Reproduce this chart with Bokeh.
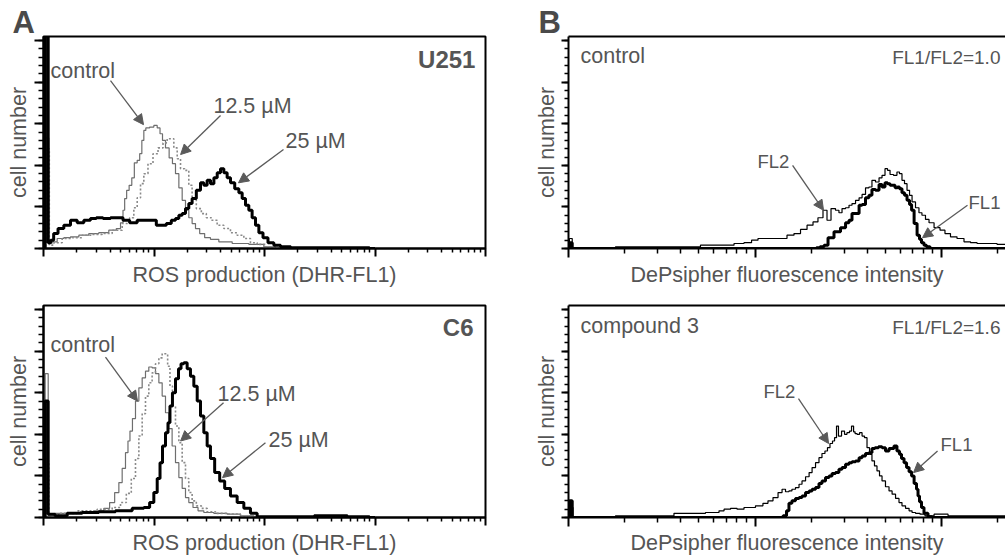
import numpy as np
from bokeh.plotting import figure
from bokeh.models import FixedTicker, Label, Arrow, NormalHead, Range1d, LogAxis
from bokeh.layouts import row, column
from bokeh.embed import file_html
from bokeh.resources import INLINE

FONT = "Liberation Sans"
TXT = "#555555"
ARROW_C = "#5a5a5a"

# ---------------- data (x: log10 intensity, y: cell count) ----------------
# Panel A, U251
u251_ctrl_lx = [0.0, 0.035, 0.06, 0.093, 0.154, 0.214, 0.275, 0.365, 0.455, 0.546,
                0.636, 0.682, 0.712, 0.727, 0.742, 0.763, 0.787, 0.811, 0.833, 0.863,
                0.878, 0.902, 0.914, 0.938, 0.983, 1.014, 1.044, 1.065, 1.089, 1.119,
                1.155, 1.179, 1.210, 1.240, 1.270, 1.300, 1.330, 1.360, 1.391, 1.436,
                1.481, 1.541, 1.632, 1.783, 1.934, 2.054, 2.145, 2.3]
u251_ctrl_n = [0, 133, 6, 8, 12, 13, 14, 16, 18, 19,
               22, 24, 31, 46, 60, 70, 76, 85, 103, 106,
               114, 130, 142, 145, 146, 148, 145, 138, 130, 121,
               109, 102, 90, 73, 58, 46, 37, 30, 24, 18,
               13, 11, 8, 6, 5, 2, 1, 0]
u251_125_lx = [0.0, 0.04, 0.065, 0.124, 0.214, 0.305, 0.395, 0.486, 0.576, 0.667,
               0.757, 0.802, 0.833, 0.863, 0.893, 0.923, 0.968, 1.014, 1.059, 1.104,
               1.134, 1.164, 1.195, 1.225, 1.255, 1.300, 1.330, 1.360, 1.406, 1.451,
               1.496, 1.541, 1.602, 1.662, 1.722, 1.783, 1.843, 1.903, 1.964, 2.054,
               2.145, 2.3]
u251_125_n = [0, 120, 4, 7, 12, 13, 16, 17, 18, 22,
              30, 37, 49, 61, 78, 90, 102, 114, 121, 127,
              132, 132, 121, 108, 96, 94, 76, 61, 48, 42,
              37, 34, 28, 24, 19, 16, 12, 7, 5, 2,
              1, 0]
u251_25_lx = [0.0, 0.03, 0.055, 0.075, 0.109, 0.154, 0.214, 0.275, 0.335, 0.395,
              0.455, 0.501, 0.576, 0.637, 0.697, 0.742, 0.817, 0.878, 0.938, 0.998,
              1.044, 1.089, 1.134, 1.179, 1.210, 1.240, 1.270, 1.300, 1.330, 1.360,
              1.406, 1.436, 1.466, 1.496, 1.527, 1.557, 1.587, 1.617, 1.647, 1.677,
              1.708, 1.753, 1.783, 1.813, 1.843, 1.873, 1.903, 1.934, 1.964, 2.009,
              2.054, 2.115, 2.175, 2.3, 2.5, 2.7, 2.9, 3.0]
u251_25_n = [0, 300, 7, 10, 18, 24, 28, 34, 31, 34,
             36, 37, 36, 37, 37, 34, 31, 34, 34, 34,
             28, 28, 30, 34, 36, 40, 42, 48, 54, 60,
             70, 79, 76, 82, 78, 85, 91, 96, 91, 85,
             79, 72, 67, 60, 52, 46, 37, 28, 19, 13,
             7, 4, 2, 1, 1, 1, 1, 0]

# Panel A, C6
c6_ctrl_lx = [0.0, 0.03, 0.055, 0.154, 0.275, 0.395, 0.516, 0.576, 0.621, 0.667,
              0.697, 0.727, 0.757, 0.772, 0.793, 0.817, 0.848, 0.878, 0.908, 0.938,
              0.968, 0.998, 1.029, 1.059, 1.089, 1.119, 1.149, 1.179, 1.210, 1.240,
              1.270, 1.300, 1.330, 1.376, 1.421, 1.481, 1.602, 1.722, 1.843, 1.964,
              2.1]
c6_ctrl_n = [0, 173, 2, 5, 6, 7, 8, 11, 18, 30,
             42, 59, 78, 92, 104, 119, 140, 156, 168, 176,
             181, 180, 173, 162, 146, 126, 107, 86, 66, 48,
             35, 24, 18, 12, 8, 6, 5, 4, 2, 1,
             0]
c6_125_lx = [0.0, 0.035, 0.06, 0.214, 0.395, 0.576, 0.667, 0.727, 0.772, 0.817,
             0.848, 0.878, 0.908, 0.938, 0.968, 0.998, 1.029, 1.059, 1.089, 1.113,
             1.134, 1.155, 1.179, 1.210, 1.240, 1.270, 1.300, 1.330, 1.360, 1.406,
             1.451, 1.511, 1.602, 1.722, 1.843, 1.95]
c6_125_n = [0, 68, 1, 5, 8, 10, 12, 18, 29, 47,
            71, 98, 125, 146, 162, 174, 185, 192, 197, 197,
            182, 158, 134, 110, 90, 66, 47, 30, 20, 14,
            11, 7, 5, 4, 1, 0]
c6_25_lx = [0.0, 0.03, 0.055, 0.154, 0.275, 0.425, 0.576, 0.727, 0.878, 0.938,
            0.983, 1.014, 1.044, 1.065, 1.089, 1.119, 1.134, 1.155, 1.179, 1.210,
            1.234, 1.255, 1.285, 1.315, 1.345, 1.376, 1.406, 1.436, 1.466, 1.496,
            1.526, 1.572, 1.617, 1.662, 1.722, 1.783, 1.843, 1.903, 1.964, 2.084,
            2.3, 2.6, 2.9, 3.0]
c6_25_n = [0, 140, 4, 2, 5, 6, 7, 8, 11, 12,
           18, 30, 47, 66, 86, 102, 114, 134, 150, 167,
           179, 185, 186, 179, 170, 158, 140, 122, 102, 86,
           71, 54, 44, 35, 26, 18, 11, 5, 1, 1,
           1, 2, 1, 0]

# Panel B, control
ctl_fl2_lx = [0.0, 0.01, 0.03, 0.172, 0.332, 0.477, 0.654, 0.761, 0.853, 0.922,
              0.960, 1.003, 1.029, 1.083, 1.153, 1.190, 1.228, 1.260, 1.298, 1.324,
              1.351, 1.378, 1.394, 1.421, 1.442, 1.458, 1.475, 1.496, 1.512, 1.528,
              1.550, 1.566, 1.582, 1.603, 1.619, 1.635, 1.657, 1.673, 1.689, 1.705,
              1.716, 1.732, 1.753, 1.769, 1.780, 1.796, 1.807, 1.823, 1.834, 1.850,
              1.871, 1.887, 1.903, 1.925, 1.941, 1.979, 2.005, 2.032, 2.064, 2.102,
              2.139, 2.172, 2.209, 2.263, 2.332, 2.36]
ctl_fl2_n = [0, 12, 1, 1, 2, 2, 2, 4, 4, 6,
             7, 10, 12, 12, 12, 16, 18, 23, 28, 32,
             37, 46, 34, 48, 46, 43, 48, 49, 52, 54,
             58, 61, 65, 73, 74, 82, 80, 85, 88, 96,
             94, 89, 88, 92, 90, 82, 78, 70, 64, 56,
             49, 43, 40, 35, 31, 25, 22, 18, 14, 12,
             8, 7, 6, 6, 5, 5]
ctl_fl1_lx = [0.0, 0.01, 0.03, 1.324, 1.335, 1.362, 1.378, 1.405, 1.442, 1.475,
              1.496, 1.512, 1.528, 1.550, 1.566, 1.582, 1.603, 1.619, 1.635, 1.657,
              1.673, 1.689, 1.705, 1.716, 1.732, 1.743, 1.759, 1.769, 1.780, 1.796,
              1.807, 1.823, 1.834, 1.845, 1.861, 1.877, 1.887, 1.898, 1.914, 1.925,
              1.952, 2.36]
ctl_fl1_n = [0, 7, 0, 0, 1, 2, 4, 13, 20, 25,
             31, 34, 42, 42, 52, 53, 61, 64, 71, 70,
             77, 74, 79, 78, 76, 76, 73, 74, 72, 67,
             64, 58, 53, 46, 30, 16, 11, 7, 4, 2,
             0, 0]

# Panel B, compound 3
cp3_fl2_lx = [0.0, 0.01, 0.038, 0.172, 0.332, 0.493, 0.638, 0.708, 0.761, 0.799,
              0.815, 0.853, 0.885, 0.922, 0.960, 0.976, 1.029, 1.056, 1.083, 1.110,
              1.137, 1.153, 1.174, 1.190, 1.206, 1.228, 1.244, 1.260, 1.282, 1.298,
              1.314, 1.335, 1.351, 1.367, 1.383, 1.394, 1.410, 1.421, 1.432, 1.442,
              1.453, 1.475, 1.485, 1.501, 1.512, 1.523, 1.534, 1.539, 1.555, 1.566,
              1.582, 1.592, 1.609, 1.619, 1.635, 1.646, 1.662, 1.673, 1.689, 1.710,
              1.727, 1.743, 1.764, 1.780, 1.796, 1.818, 1.834, 1.850, 1.871, 1.898,
              1.925, 1.995, 2.075, 2.139, 2.209, 2.263, 2.332, 2.36]
cp3_fl2_n = [0, 12, 1, 1, 2, 2, 5, 5, 6, 6,
             8, 10, 11, 10, 12, 12, 14, 17, 20, 24,
             30, 34, 31, 32, 34, 36, 40, 44, 49, 54,
             60, 66, 72, 77, 80, 84, 89, 92, 96, 110,
             98, 104, 100, 102, 104, 110, 103, 101, 100, 102,
             98, 96, 84, 76, 68, 62, 56, 50, 44, 37,
             32, 28, 23, 18, 14, 11, 8, 6, 5, 4,
             2, 4, 2, 2, 2, 2, 2, 2]
cp3_fl1_lx = [0.0, 0.01, 0.03, 1.137, 1.164, 1.174, 1.190, 1.206, 1.228, 1.244,
              1.260, 1.282, 1.298, 1.314, 1.335, 1.351, 1.367, 1.389, 1.405, 1.421,
              1.442, 1.458, 1.475, 1.496, 1.512, 1.528, 1.550, 1.566, 1.582, 1.603,
              1.619, 1.635, 1.651, 1.673, 1.689, 1.710, 1.727, 1.737, 1.753, 1.769,
              1.780, 1.791, 1.807, 1.818, 1.834, 1.845, 1.861, 1.871, 1.877, 1.887,
              1.898, 1.914, 1.941, 1.957, 2.36]
cp3_fl1_n = [0, 20, 0, 0, 2, 8, 17, 20, 23, 24,
             26, 30, 32, 34, 36, 41, 44, 48, 50, 53,
             54, 58, 60, 64, 66, 67, 68, 72, 74, 77,
             78, 83, 84, 85, 84, 80, 83, 83, 86, 80,
             76, 71, 66, 60, 55, 50, 41, 34, 26, 19,
             12, 5, 1, 0, 0]

Y_MAX = 255
A_DECADES = 4
B_DECADES = 2.343
FRAME_H = 212                  # frame height in px, used to convert label offsets
BASE_SHIFT = 0.3465            # measured offset of the drawn baseline, in em


def xs(lx):
    return 10 ** np.asarray(lx, dtype=float)


def make_fig(width, height, bl, br, bt, bb, decades, xlabel, box,
             ytick_out, ymin_out, xtick_out, xmin_out, ylab_standoff, xlab_standoff):
    p = figure(width=width, height=height, x_axis_type="log",
               x_range=Range1d(1, 10 ** decades), y_range=Range1d(0, Y_MAX),
               output_backend="svg", toolbar_location=None,
               min_border_left=bl, min_border_right=br,
               min_border_top=bt, min_border_bottom=bb)
    p.grid.visible = False
    p.background_fill_color = "white"
    p.border_fill_color = "white"
    if box:
        p.outline_line_color = "black"
        p.outline_line_width = 2
    else:
        # panel is cut at the right edge: only a top rule, no right border
        p.outline_line_color = None
        top = LogAxis(ticker=FixedTicker(ticks=[]), axis_line_width=2,
                      axis_line_color="black", major_tick_out=0, major_tick_in=0,
                      minor_tick_out=0, minor_tick_in=0,
                      major_label_text_font_size="1px", major_label_standoff=0)
        p.add_layout(top, "above")

    nmaj = int(np.floor(decades))
    majors = [10.0 ** k for k in range(0, nmaj + 1)]
    minors = [m * 10.0 ** k for k in range(0, nmaj + 1) for m in range(2, 10)
              if m * 10.0 ** k < 10 ** decades]
    xa = p.below[0]
    xa.ticker = FixedTicker(ticks=majors, minor_ticks=minors)
    xa.major_label_overrides = {t: "" for t in majors}
    xa.major_label_text_font_size = "1px"
    xa.major_label_standoff = 0
    xa.major_tick_out = xtick_out
    xa.major_tick_in = 0
    xa.minor_tick_out = xmin_out
    xa.minor_tick_in = 0
    xa.major_tick_line_width = 2
    xa.minor_tick_line_width = 1.5
    xa.axis_line_width = 2
    xa.axis_label = xlabel
    xa.axis_label_text_font = FONT
    xa.axis_label_text_font_size = "21.5px"
    xa.axis_label_text_font_style = "normal"
    xa.axis_label_text_color = TXT
    xa.axis_label_standoff = xlab_standoff

    ymaj = [0, 50, 100, 150, 200, 250]
    ya = p.left[0]
    ya.ticker = FixedTicker(ticks=ymaj, minor_ticks=list(range(0, Y_MAX + 1, 10)))
    ya.major_label_overrides = {t: "" for t in ymaj}
    ya.major_label_text_font_size = "1px"
    ya.major_label_standoff = 0
    ya.major_tick_out = ytick_out
    ya.major_tick_in = 0
    ya.minor_tick_out = ymin_out
    ya.minor_tick_in = 0
    ya.major_tick_line_width = 2
    ya.minor_tick_line_width = 1.5
    ya.axis_line_width = 2
    ya.axis_label = "cell number"
    ya.axis_label_text_font = FONT
    ya.axis_label_text_font_size = "21.5px"
    ya.axis_label_text_font_style = "normal"
    ya.axis_label_text_color = TXT
    ya.axis_label_standoff = ylab_standoff
    return p


def panel_letter(p, letter, offset):
    # the panel letter sits in the space above the frame, left of the y axis
    p.title.text = letter
    p.title.text_font = FONT
    p.title.text_font_size = "31px"
    p.title.text_font_style = "bold"
    p.title.text_color = "#4a4a4a"
    p.title.align = "left"
    p.title.vertical_align = "bottom"
    p.title.offset = offset
    p.title.standoff = -7


def label(p, x, y, text, size=21.5, bold=False, align="left", color=TXT):
    # y is where the baseline should sit; compensate the renderer's baseline offset
    y_adj = y + BASE_SHIFT * size * Y_MAX / FRAME_H
    p.add_layout(Label(x=x, y=y_adj, text=text, text_font=FONT,
                       text_font_size=f"{size}px",
                       text_font_style="bold" if bold else "normal",
                       text_color=color, text_align=align,
                       text_baseline="alphabetic"))


def arrow(p, x0, y0, x1, y1):
    p.add_layout(Arrow(x_start=x0, y_start=y0, x_end=x1, y_end=y1,
                       line_color=ARROW_C, line_width=1.3,
                       end=NormalHead(size=10, fill_color=ARROW_C,
                                      line_color=ARROW_C, line_width=1)))


def curves_a(p, ctrl, c125, c25):
    p.step(xs(ctrl[0]), ctrl[1], mode="center", line_color="#6e6e6e", line_width=1.2)
    p.step(xs(c125[0]), c125[1], mode="center", line_color="#8a8a8a", line_width=1.6,
           line_dash="2 2")
    p.step(xs(c25[0]), c25[1], mode="center", line_color="black", line_width=3)


def curves_b(p, fl2, fl1):
    p.step(xs(fl2[0]), fl2[1], mode="center", line_color="black", line_width=1.2)
    p.step(xs(fl1[0]), fl1[1], mode="center", line_color="black", line_width=3)


# page origin is the top-left corner of the window (Bokeh's template has no body margin)
W_A, W_B = 500, 505
H_TOP, H_BOT = 290, 269

# ---------------- panel A, U251 ----------------
a1 = make_fig(W_A, H_TOP, 43, 15, 36, 42, A_DECADES, "ROS production (DHR-FL1)", True,
              9, 5, 8, 4, 4, 6)
panel_letter(a1, "A", -31)
curves_a(a1, (u251_ctrl_lx, u251_ctrl_n), (u251_125_lx, u251_125_n), (u251_25_lx, u251_25_n))
label(a1, 8110, 217, "U251", size=24, bold=True, align="right")
label(a1, 1.157, 205, "control")
arrow(a1, 4.04, 202, 8.04, 149)
label(a1, 34.5, 162, "12.5 µM")
arrow(a1, 40.0, 160, 17.4, 113)
label(a1, 155, 120, "25 µM")
arrow(a1, 148.6, 119, 58.2, 79)

# ---------------- panel A, C6 ----------------
a2 = make_fig(W_A, H_BOT, 43, 15, 15, 42, A_DECADES, "ROS production (DHR-FL1)", True,
              9, 5, 8, 4, 4, 5)
curves_a(a2, (c6_ctrl_lx, c6_ctrl_n), (c6_125_lx, c6_125_n), (c6_25_lx, c6_25_n))
label(a2, 7785, 218, "C6", size=24, bold=True, align="right")
label(a2, 1.157, 198, "control")
arrow(a2, 3.64, 193, 7.09, 140)
label(a2, 37.6, 140, "12.5 µM")
arrow(a2, 42.6, 138, 17.4, 92)
label(a2, 108.7, 84, "25 µM")
arrow(a2, 102, 90, 41.7, 48)

# ---------------- panel B, control ----------------
b1 = make_fig(W_B, H_TOP, 68, 0, 36, 42, B_DECADES, "DePsipher fluorescence intensity", False,
              7, 4, 9, 5, 3, 5)
panel_letter(b1, "B", -30)
curves_b(b1, (ctl_fl2_lx, ctl_fl2_n), (ctl_fl1_lx, ctl_fl1_n))
label(b1, 1.160, 222, "control")
label(b1, 207, 222, "FL1/FL2=1.0", size=19, align="right")
label(b1, 10.3, 97, "FL2", size=18.5)
arrow(b1, 15.9, 100, 23.3, 46)
label(b1, 139.6, 48, "FL1", size=18.5)
arrow(b1, 137.8, 52, 79.1, 13)

# ---------------- panel B, compound 3 ----------------
b2 = make_fig(W_B, H_BOT, 68, 0, 15, 42, B_DECADES, "DePsipher fluorescence intensity", False,
              7, 4, 9, 5, 3, 4)
curves_b(b2, (cp3_fl2_lx, cp3_fl2_n), (cp3_fl1_lx, cp3_fl1_n))
label(b2, 1.160, 221, "compound 3")
label(b2, 207, 221, "FL1/FL2=1.6", size=19, align="right")
label(b2, 11.1, 144, "FL2", size=18.5)
arrow(b2, 17.1, 143, 24.8, 89)
label(b2, 98.8, 80, "FL1", size=18.5)
arrow(b2, 95.2, 80, 70.8, 54)

layout = column(row(a1, b1), row(a2, b2))
open("out.html", "w").write(file_html(layout, INLINE))
